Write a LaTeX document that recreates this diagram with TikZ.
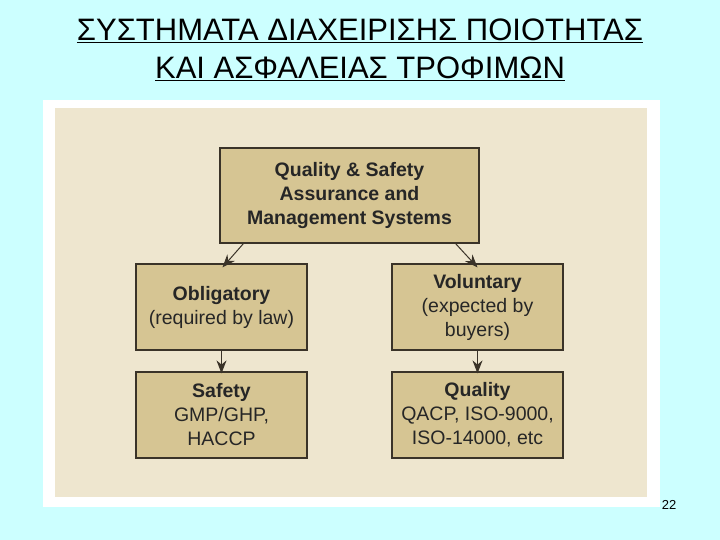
\documentclass[tikz,border=0pt]{standalone}
\usepackage{fontspec}
\setmainfont{Liberation Sans}
\usetikzlibrary{arrows.meta}
\definecolor{bgc}{HTML}{CCFFFF}
\definecolor{panel}{HTML}{EEE6CF}
\definecolor{boxc}{HTML}{D6C593}
\definecolor{edge}{HTML}{3A3328}
\begin{document}
\begin{tikzpicture}[x=1pt,y=-1pt,
  box/.style={draw=edge,line width=1.2pt,fill=boxc,align=center,inner sep=0pt,font=\fontsize{19.5}{24}\selectfont,text=black!85},
  arr/.style={draw=edge,line width=1pt,-{Stealth[length=13pt,width=10pt]}}]
\useasboundingbox (0,0) rectangle (720,540);
\fill[bgc] (0,0) rectangle (720,540);
\node[font=\fontsize{31}{38}\selectfont,align=center] (title) at (360,50) {\underline{ΣΥΣΤΗΜΑΤΑ ΔΙΑΧΕΙΡΙΣΗΣ ΠΟΙΟΤΗΤΑΣ}\\\underline{ΚΑΙ ΑΣΦΑΛΕΙΑΣ ΤΡΟΦΙΜΩΝ}};
\fill[white] (43,100) rectangle (660,507);
\fill[panel] (55,108) rectangle (647,497);
\node[box,minimum width=259pt,minimum height=95pt] (top) at (349.5,195.5) {\textbf{Quality \& Safety}\\\textbf{Assurance and}\\\textbf{Management Systems}};
\node[box,minimum width=171pt,minimum height=86pt] (obl) at (221.5,307) {\textbf{Obligatory}\\(required by law)};
\node[box,minimum width=171pt,minimum height=86pt] (vol) at (477.5,307) {\textbf{Voluntary}\\(expected by\\buyers)};
\node[box,minimum width=171pt,minimum height=86pt] (saf) at (221.5,415) {\textbf{Safety}\\GMP/GHP,\\HACCP};
\node[box,minimum width=171pt,minimum height=86pt] (qua) at (477.5,415) {\textbf{Quality}\\QACP, ISO-9000,\\ISO-14000, etc};
\draw[arr] ([xshift=24pt]top.south west) -- ([xshift=1pt,yshift=-4pt]obl.north);
\draw[arr] ([xshift=-24pt]top.south east) -- ([yshift=-4pt]vol.north);
\draw[arr] (obl.south) -- ([yshift=-2pt]saf.north);
\draw[arr] (vol.south) -- ([yshift=-2pt]qua.north);
\node[font=\fontsize{13}{15}\selectfont] (pg) at (669,505) {22};
\end{tikzpicture}
\end{document}
